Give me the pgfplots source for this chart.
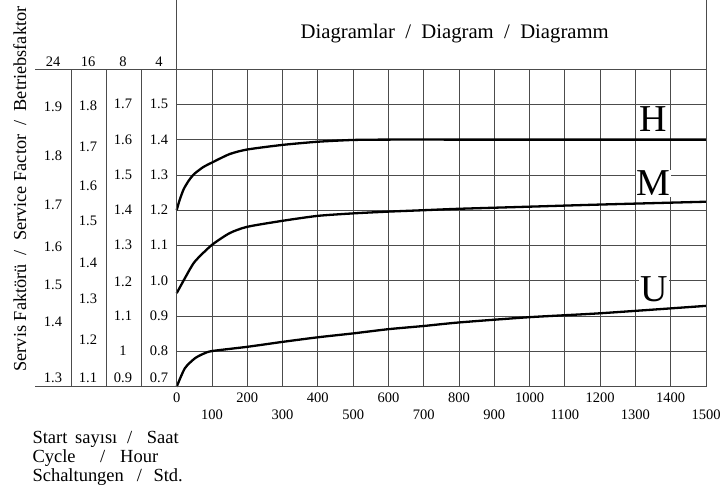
\documentclass[border=0pt]{standalone}
\usepackage{fontspec}
\setmainfont{Liberation Serif}
\usepackage{pgfplots}
\pgfplotsset{compat=1.18}
\begin{document}
\begin{tikzpicture}[x=1pt,y=-1pt]
\useasboundingbox (0,0) rectangle (721,493);
\begin{axis}[
  at={(176.7pt,-386.7pt)}, anchor=south west,
  scale only axis, width=529.3pt, height=317.7pt,
  xmin=0, xmax=1500, ymin=0.7, ymax=1.6,
  clip=false,
  xtick={0,200,400,600,800,1000,1200,1400},
  extra x ticks={100,300,500,700,900,1100,1300,1500},
  extra x tick style={grid=major, xticklabel style={yshift=-16.6pt}},
  ytick={0.7,0.8,0.9,1.0,1.1,1.2,1.3,1.4,1.5,1.6},
  yticklabels={},
  grid=major,
  major tick length=0pt,
  grid style={black!70, line width=0.8pt},
  axis line style={black!70, line width=0.8pt},
  xticklabel style={anchor=base, yshift=-16pt, font=\fontsize{14.5}{16}\selectfont},
  /pgf/number format/assume math mode=true,
  /pgf/number format/set thousands separator={},
]
\node[fill=white, inner sep=1pt, font=\fontsize{38}{38}\selectfont] at (axis cs:1351,1.458) {H};
\node[fill=white, inner sep=1pt, font=\fontsize{38}{38}\selectfont] at (axis cs:1351,1.276) {M};
\node[fill=white, inner sep=1pt, font=\fontsize{38}{38}\selectfont] at (axis cs:1352,0.975) {U};
\addplot[black, line width=2.3pt, smooth, tension=0.4] coordinates {
 (0,1.200) (8,1.228) (20,1.260) (35,1.285) (50,1.303) (75,1.322) (100,1.335)
 (150,1.359) (200,1.372) (300,1.385) (400,1.394) (500,1.399) (600,1.400)
 (800,1.400) (1000,1.400) (1200,1.400) (1500,1.400)
};
\addplot[black, line width=2.3pt, smooth, tension=0.4] coordinates {
 (0,0.965) (23,1.007) (51,1.054) (99,1.101) (150,1.135) (200,1.153)
 (300,1.170) (400,1.184) (500,1.191) (600,1.196) (700,1.200) (800,1.204)
 (1000,1.210) (1200,1.216) (1500,1.224)
};
\addplot[black, line width=2.3pt, smooth, tension=0.4] coordinates {
 (0,0.700) (23,0.752) (51,0.780) (75,0.793) (100,0.801) (200,0.813)
 (300,0.827) (400,0.840) (500,0.851) (600,0.863) (700,0.872) (800,0.882)
 (1000,0.897) (1200,0.908) (1500,0.929)
};
\end{axis}
% frame of the factor columns and the title box
\draw[black!70, line width=0.8pt] (176.7,0) -- (176.7,386.7);
\draw[black!70, line width=0.8pt] (706,0) -- (706,386.7);
\draw[black!70, line width=0.8pt] (35,69) -- (706,69);
\draw[black!70, line width=0.8pt] (35,386.7) -- (706,386.7);
\foreach \cx in {71,106.3,141.5}
  \draw[black!70, line width=0.8pt] (\cx,69) -- (\cx,386.7);
\node[anchor=base, font=\fontsize{20.7}{22}\selectfont] at (454.7,38.3)
  {Diagramlar\ \ /\ \ Diagram\ \ /\ \ Diagramm};
\node[anchor=base, rotate=90, inner sep=0pt, font=\fontsize{18.3}{20}\selectfont] at (26,189)
  {Servis Faktörü\ \ /\ \ Service Factor\ \ /\ \ Betriebsfaktor};
\begin{scope}[every node/.style={font=\fontsize{14.5}{16}\selectfont, inner sep=0pt}]
\node at (53,62) {24};
\node at (88,62) {16};
\node at (123,62) {8};
\node at (159,62) {4};
% 24 h
\node at (53,106.7) {1.9}; \node at (53,155.7) {1.8}; \node at (53,205) {1.7};
\node at (53,246.7) {1.6}; \node at (53,285) {1.5}; \node at (53,321.7) {1.4};
\node at (53,377.7) {1.3};
% 16 h
\node at (88,106) {1.8}; \node at (88,146.7) {1.7}; \node at (88,186) {1.6};
\node at (88,221) {1.5}; \node at (88,263.3) {1.4}; \node at (88,298.3) {1.3};
\node at (88,339.3) {1.2}; \node at (88,377.7) {1.1};
% 8 h
\node at (123,104.3) {1.7}; \node at (123,140) {1.6}; \node at (123,175) {1.5};
\node at (123,210) {1.4}; \node at (123,245) {1.3}; \node at (123,281.7) {1.2};
\node at (123,316) {1.1}; \node at (123,351) {1}; \node at (123,377.7) {0.9};
% 4 h
\node at (159,104.3) {1.5}; \node at (159,140) {1.4}; \node at (159,175) {1.3};
\node at (159,210) {1.2}; \node at (159,245) {1.1}; \node at (159,281) {1.0};
\node at (159,316) {0.9}; \node at (159,351) {0.8}; \node at (159,377.7) {0.7};
\end{scope}
\begin{scope}[every node/.style={font=\fontsize{18.5}{20}\selectfont, inner sep=0pt, anchor=base west}]
\node at (32.3,443.5) {Start}; \node at (75,443.5) {sayısı};
\node at (127,443.5) {/}; \node at (146.7,443.5) {Saat};
\node at (32.3,462.3) {Cycle}; \node at (100,462.3) {/}; \node at (120,462.3) {Hour};
\node at (32.3,481.7) {Schaltungen}; \node at (136.7,481.7) {/}; \node at (153.3,481.7) {Std.};
\end{scope}
\end{tikzpicture}
\end{document}
